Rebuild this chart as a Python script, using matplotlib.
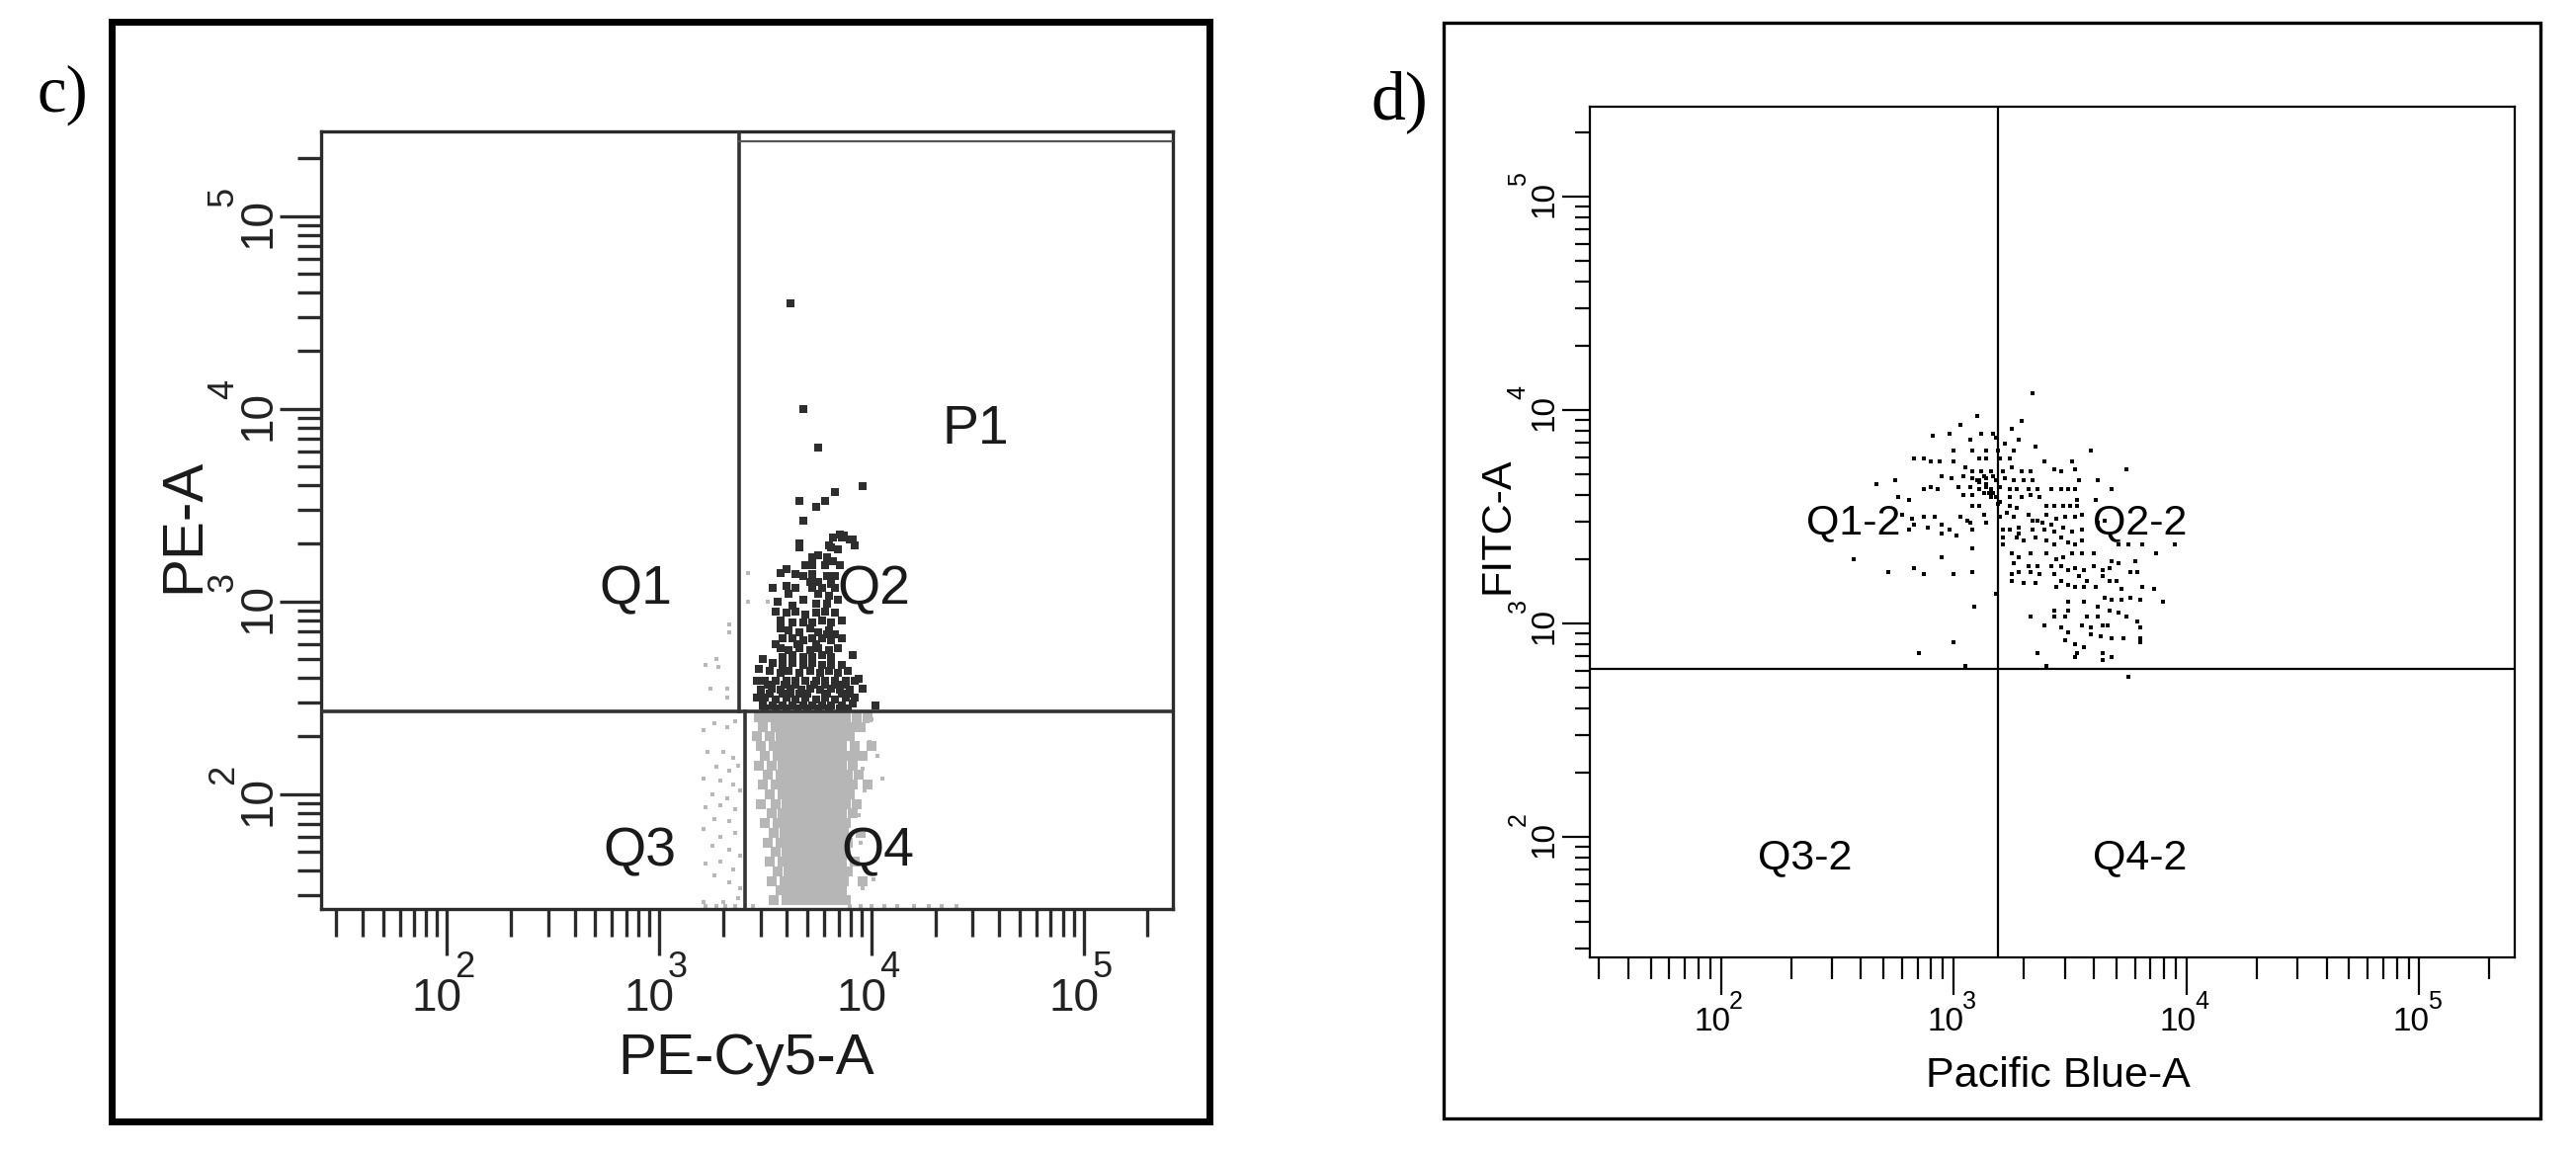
import numpy as np
import matplotlib
matplotlib.use("Agg")
import matplotlib.pyplot as plt
from matplotlib.patches import Rectangle

plt.rcParams['font.family'] = ['Liberation Sans', 'DejaVu Sans']
NARROW = ['Liberation Sans Narrow', 'Liberation Sans', 'DejaVu Sans']
SERIF = ['Liberation Serif', 'DejaVu Serif']

# ---------------- panel c : PE-Cy5-A vs PE-A (log10 of intensity) ----------------
# dark events above the horizontal gate (Q2)
c_dark_cy5 = [3.62, 3.68, 3.75, 3.96, 3.83, 3.78, 3.74, 3.66, 3.68, 3.85, 3.91, 3.87, 3.66, 3.80,
              3.82, 3.86, 3.90, 3.92, 3.66, 3.81, 3.84, 3.72, 3.75, 3.79, 3.82, 3.69, 3.72, 3.78, 3.85,
              3.57, 3.60, 3.64, 3.68, 3.72, 3.79, 3.83, 3.71, 3.75, 3.81, 3.535, 3.60, 3.64, 3.72, 3.77,
              3.83, 3.61, 3.75, 3.80, 3.56, 3.63, 3.68, 3.74, 3.79, 3.84,
              3.55, 3.60, 3.64, 3.69, 3.74, 3.78, 3.83, 3.57, 3.63, 3.68, 3.72, 3.77, 3.81, 3.86,
              3.57, 3.61, 3.66, 3.71, 3.75, 3.80, 3.58, 3.63, 3.68, 3.72, 3.77, 3.81, 3.86,
              3.57, 3.61, 3.66, 3.71, 3.75, 3.80, 3.84, 3.58, 3.63, 3.68, 3.72, 3.77, 3.81, 3.91,
              3.49, 3.535, 3.58, 3.63, 3.68, 3.72, 3.77, 3.81, 3.86,
              3.47, 3.52, 3.57, 3.61, 3.66, 3.71, 3.76, 3.80, 3.84, 3.89, 3.94,
              3.46, 3.50, 3.55, 3.60, 3.64, 3.69, 3.74, 3.78, 3.83, 3.88, 3.92,
              3.48, 3.53, 3.57, 3.62, 3.67, 3.71, 3.76, 3.81, 3.85, 3.90, 3.96,
              3.46, 3.50, 3.55, 3.60, 3.64, 3.69, 3.74, 3.78, 3.83, 3.88, 3.92,
              3.49, 3.535, 3.58, 3.63, 3.68, 3.72, 3.77, 3.81, 3.86, 3.91, 4.02,
              3.50, 3.55, 3.60, 3.65, 3.70, 3.75, 3.80, 3.85, 3.89,
              3.52, 3.58, 3.62, 3.66, 3.70, 3.79, 3.86, 3.90,
              3.51, 3.59, 3.64, 3.73, 3.78, 3.84, 3.88,
              3.55, 3.65, 3.74, 3.79, 3.83]
c_dark_pe = [4.55, 4.00, 3.80, 3.60, 3.57, 3.52, 3.49, 3.52, 3.42, 3.35, 3.32, 3.34, 3.30, 3.29,
             3.33, 3.33, 3.32, 3.29, 3.28, 3.28, 3.27, 3.23, 3.24, 3.23, 3.21, 3.19, 3.19, 3.19, 3.19,
             3.15, 3.17, 3.14, 3.13, 3.14, 3.13, 3.13, 3.10, 3.10, 3.09, 3.07, 3.08, 3.07, 3.07, 3.07,
             3.07, 3.04, 3.04, 3.03, 3.00, 2.98, 3.01, 2.99, 2.99, 3.01,
             2.95, 2.94, 2.95, 2.93, 2.94, 2.95, 2.94, 2.90, 2.89, 2.89, 2.89, 2.90, 2.89, 2.90,
             2.86, 2.85, 2.84, 2.86, 2.84, 2.85, 2.81, 2.81, 2.80, 2.81, 2.81, 2.80, 2.81,
             2.76, 2.75, 2.76, 2.75, 2.76, 2.75, 2.76, 2.71, 2.72, 2.71, 2.71, 2.72, 2.71, 2.72,
             2.70, 2.68, 2.67, 2.68, 2.67, 2.68, 2.67, 2.67, 2.67,
             2.65, 2.64, 2.63, 2.64, 2.63, 2.64, 2.63, 2.64, 2.63, 2.64, 2.60,
             2.59, 2.59, 2.59, 2.59, 2.59, 2.59, 2.59, 2.59, 2.59, 2.59, 2.59,
             2.54, 2.55, 2.54, 2.55, 2.54, 2.55, 2.54, 2.55, 2.54, 2.54, 2.55,
             2.50, 2.50, 2.49, 2.50, 2.49, 2.50, 2.49, 2.50, 2.49, 2.50, 2.50,
             2.46, 2.46, 2.46, 2.46, 2.46, 2.46, 2.46, 2.46, 2.46, 2.47, 2.46,
             2.445, 2.445, 2.445, 2.445, 2.445, 2.445, 2.445, 2.445, 2.445,
             2.52, 2.52, 2.52, 2.52, 2.52, 2.52, 2.52, 2.52,
             2.57, 2.57, 2.57, 2.57, 2.57, 2.57, 2.57,
             2.78, 2.78, 2.78, 2.83, 2.83]

# scattered light-grey events (Q1 edge, Q3, right flank of Q4, pile-up on the axis)
c_grey_cy5 = [3.33, 3.22, 3.27, 3.24, 3.32, 3.42, 3.42, 3.51, 3.33, 3.28, 3.32,
              3.21, 3.26, 3.32, 3.36, 3.23, 3.30, 3.35, 3.27, 3.33, 3.37, 3.21, 3.29, 3.35,
              3.25, 3.32, 3.38, 3.22, 3.29, 3.36, 3.26, 3.33, 3.21, 3.29, 3.36, 3.25, 3.33,
              3.38, 3.22, 3.29, 3.35, 3.26, 3.33, 3.38, 3.21, 3.30, 3.37,
              4.00, 3.98, 4.05, 3.96, 3.97, 3.94, 4.01, 3.96, 3.99, 4.03, 3.95,
              3.22, 3.27, 3.31, 3.36, 3.44, 3.90, 3.95, 4.00, 4.06, 4.12, 4.20, 4.27, 4.33, 4.40]
c_grey_pe = [2.88, 2.67, 2.70, 2.55, 2.55, 3.15, 3.00, 3.00, 2.84, 2.66, 2.50,
             2.33, 2.37, 2.35, 2.38, 2.22, 2.22, 2.19, 2.14, 2.12, 2.15, 2.08, 2.07, 2.05,
             2.00, 1.98, 2.02, 1.93, 1.94, 1.92, 1.87, 1.86, 1.82, 1.78, 1.80, 1.73, 1.71,
             1.68, 1.64, 1.65, 1.61, 1.58, 1.54, 1.51, 1.44, 1.44, 1.46,
             2.39, 2.38, 2.08, 2.13, 2.02, 1.89, 1.56, 1.51, 2.27, 2.20, 1.75,
             1.42, 1.42, 1.42, 1.42, 1.42, 1.42, 1.42, 1.42, 1.42, 1.42, 1.42, 1.42, 1.42, 1.42]

# dense light-grey core of Q4, read row by row (PE level, PE-Cy5 positions)
q4_core_pe = [2.40, 2.35, 2.30, 2.25, 2.20, 2.15, 2.10, 2.05, 2.00, 1.95,
              1.90, 1.85, 1.80, 1.75, 1.70, 1.65, 1.60, 1.55, 1.50, 1.45]
q4_core_cy5 = [
    [3.47, 3.51, 3.56, 3.60, 3.64, 3.68, 3.72, 3.76, 3.80, 3.84, 3.88, 3.93, 3.98],
    [3.49, 3.55, 3.59, 3.63, 3.67, 3.71, 3.75, 3.79, 3.83, 3.87, 3.91, 3.95],
    [3.46, 3.52, 3.57, 3.61, 3.65, 3.69, 3.73, 3.77, 3.81, 3.85, 3.90],
    [3.48, 3.54, 3.58, 3.62, 3.66, 3.70, 3.74, 3.78, 3.82, 3.86, 3.92, 4.00],
    [3.50, 3.56, 3.60, 3.64, 3.68, 3.72, 3.76, 3.80, 3.84, 3.88, 3.92, 3.96],
    [3.47, 3.53, 3.58, 3.62, 3.66, 3.70, 3.74, 3.78, 3.82, 3.86, 3.91],
    [3.51, 3.57, 3.61, 3.65, 3.69, 3.73, 3.77, 3.81, 3.85, 3.89, 3.94],
    [3.49, 3.55, 3.59, 3.63, 3.67, 3.71, 3.75, 3.79, 3.83, 3.87, 3.91, 3.98],
    [3.52, 3.58, 3.62, 3.66, 3.70, 3.74, 3.78, 3.82, 3.86, 3.90],
    [3.48, 3.55, 3.60, 3.64, 3.68, 3.72, 3.76, 3.80, 3.84, 3.88, 3.93],
    [3.53, 3.58, 3.62, 3.66, 3.70, 3.74, 3.78, 3.82, 3.86, 3.91],
    [3.50, 3.56, 3.60, 3.64, 3.68, 3.72, 3.76, 3.80, 3.84, 3.88],
    [3.54, 3.59, 3.63, 3.67, 3.71, 3.75, 3.79, 3.83, 3.87, 3.95],
    [3.51, 3.57, 3.61, 3.65, 3.69, 3.73, 3.77, 3.81, 3.85, 3.89],
    [3.55, 3.60, 3.64, 3.68, 3.72, 3.76, 3.80, 3.84, 3.88],
    [3.52, 3.58, 3.62, 3.66, 3.70, 3.74, 3.78, 3.82, 3.86, 3.92],
    [3.56, 3.61, 3.65, 3.69, 3.73, 3.77, 3.81, 3.85, 3.89],
    [3.53, 3.59, 3.63, 3.67, 3.71, 3.75, 3.79, 3.83, 3.87, 3.96],
    [3.57, 3.62, 3.66, 3.70, 3.74, 3.78, 3.82, 3.86],
    [3.54, 3.60, 3.64, 3.68, 3.72, 3.76, 3.80, 3.84, 3.88],
]

# gates of panel c (log10)
c_hgate = 2.43
c_vgate_up = 3.377
c_vgate_low = 3.403
c_p1 = (3.377, 5.415, 5.39)   # left, right, top

# ---------------- panel d : Pacific Blue-A vs FITC-A (log10) ----------------
d_pb = [3.34, 3.10, 3.29, 3.03, 3.25, 2.91, 2.98, 3.12, 3.17, 3.18,
        3.07, 3.28, 3.22, 3.35, 3.59, 3.00, 3.08, 3.14, 3.19, 3.26,
        2.83, 2.87, 2.90, 2.94, 3.00, 3.11, 3.14, 3.20, 3.24, 3.39,
        3.51, 3.74, 3.43, 3.46, 3.52, 3.05, 3.08, 3.12, 3.16, 3.21,
        3.25, 3.29, 3.33, 2.95, 2.99, 3.04, 3.08, 3.11, 3.14, 3.18,
        3.22, 3.26, 3.30, 3.34, 3.54, 3.62, 2.75, 2.67, 2.87, 2.90,
        2.93, 3.02, 3.07, 3.11, 3.14, 3.16, 3.20, 3.24, 3.27, 3.32,
        3.36, 3.42, 3.46, 3.49, 3.52, 3.68, 3.04, 3.08, 3.13, 3.16,
        3.20, 3.24, 3.29, 3.33, 3.37, 3.53, 3.61, 2.76, 2.81, 3.08,
        3.11, 3.19, 3.24, 3.27, 3.40, 3.43, 3.47, 3.50, 3.53, 2.78,
        2.82, 2.87, 2.92, 2.83, 2.89, 2.95, 2.98, 3.03, 3.06, 3.13,
        3.14, 3.20, 3.23, 3.26, 3.32, 3.36, 3.40, 3.44, 3.48, 3.52,
        3.55, 3.62, 3.65, 2.81, 2.95, 3.01, 3.07, 3.08, 3.21, 3.24,
        3.28, 3.34, 3.39, 3.43, 3.47, 3.51, 3.55, 3.21, 3.27, 3.30,
        3.35, 3.40, 3.46, 3.49, 3.55, 3.71, 3.75, 3.81, 3.95, 3.21,
        2.57, 2.95, 3.08, 3.25, 3.28, 3.33, 3.40, 3.44, 3.47, 3.51,
        3.55, 3.60, 3.68, 3.78, 3.87, 3.26, 3.32, 3.36, 3.42, 3.46,
        3.49, 3.52, 3.56, 3.60, 3.64, 3.67, 3.71, 3.76, 3.79, 2.72,
        2.83, 2.87, 3.00, 3.08, 3.25, 3.28, 3.33, 3.37, 3.43, 3.46,
        3.54, 3.57, 3.64, 3.67, 3.25, 3.30, 3.35, 3.44, 3.49, 3.52,
        3.56, 3.61, 3.70, 3.18, 3.72, 3.81, 3.86, 3.65, 3.68, 3.72,
        3.76, 3.80, 3.90, 3.49, 3.56, 3.62, 3.09, 3.43, 3.49, 3.67,
        3.71, 3.74, 3.33, 3.43, 3.48, 3.57, 3.62, 3.79, 3.39, 3.46,
        3.55, 3.59, 3.64, 3.66, 3.80, 3.49, 3.59, 3.63, 3.68, 3.73,
        3.80, 3.48, 3.80, 3.00, 3.52, 3.56, 3.53, 3.36, 2.85, 3.64,
        3.68, 3.64, 3.52, 3.05, 3.40, 3.75,
        3.11, 3.14, 3.17, 3.18, 3.15, 3.10, 3.13, 3.17, 3.34, 3.38, 3.42, 3.28, 3.43, 3.52]
d_fitc = [4.08, 3.97, 3.95, 3.93, 3.91, 3.88, 3.89, 3.89, 3.89, 3.87,
          3.86, 3.86, 3.84, 3.83, 3.81, 3.81, 3.81, 3.81, 3.81, 3.81,
          3.77, 3.77, 3.76, 3.76, 3.76, 3.77, 3.77, 3.77, 3.77, 3.76,
          3.76, 3.72, 3.72, 3.71, 3.72, 3.73, 3.71, 3.71, 3.71, 3.71,
          3.73, 3.71, 3.71, 3.69, 3.68, 3.69, 3.68, 3.67, 3.68, 3.67,
          3.68, 3.67, 3.67, 3.67, 3.67, 3.67, 3.67, 3.65, 3.63, 3.64,
          3.63, 3.64, 3.64, 3.63, 3.64, 3.63, 3.64, 3.63, 3.63, 3.63,
          3.63, 3.63, 3.63, 3.63, 3.63, 3.63, 3.60, 3.60, 3.61, 3.59,
          3.57, 3.59, 3.59, 3.60, 3.59, 3.58, 3.58, 3.59, 3.58, 3.55,
          3.55, 3.56, 3.55, 3.54, 3.55, 3.55, 3.55, 3.55, 3.55, 3.51,
          3.49, 3.50, 3.50, 3.46, 3.45, 3.46, 3.44, 3.50, 3.48, 3.51,
          3.47, 3.50, 3.52, 3.50, 3.51, 3.48, 3.51, 3.49, 3.50, 3.50,
          3.51, 3.47, 3.48, 3.44, 3.42, 3.41, 3.47, 3.44, 3.44, 3.44,
          3.45, 3.44, 3.44, 3.43, 3.45, 3.43, 3.44, 3.40, 3.40, 3.39,
          3.40, 3.39, 3.40, 3.38, 3.39, 3.37, 3.37, 3.37, 3.37, 3.37,
          3.30, 3.31, 3.35, 3.33, 3.31, 3.33, 3.33, 3.30, 3.31, 3.33,
          3.33, 3.33, 3.29, 3.29, 3.33, 3.28, 3.27, 3.27, 3.27, 3.27,
          3.25, 3.26, 3.25, 3.27, 3.25, 3.26, 3.28, 3.24, 3.24, 3.24,
          3.26, 3.23, 3.23, 3.24, 3.23, 3.24, 3.24, 3.23, 3.23, 3.20,
          3.22, 3.20, 3.22, 3.20, 3.20, 3.19, 3.19, 3.17, 3.18, 3.17,
          3.17, 3.17, 3.20, 3.14, 3.16, 3.17, 3.16, 3.12, 3.11, 3.11,
          3.12, 3.11, 3.10, 3.10, 3.10, 3.08, 3.08, 3.06, 3.06, 3.06,
          3.05, 3.03, 3.03, 3.03, 3.03, 3.03, 3.03, 3.01, 2.99, 2.98,
          2.99, 2.98, 2.99, 2.99, 2.98, 2.96, 2.95, 2.94, 2.93, 2.93,
          2.93, 2.92, 2.91, 2.91, 2.90, 2.89, 2.86, 2.86, 2.86, 2.86,
          2.84, 2.83, 2.84, 2.80, 2.80, 2.75,
          3.66, 3.65, 3.61, 3.59, 3.61, 3.67, 3.69, 3.69, 3.48, 3.47, 3.46, 3.42, 3.37, 3.37]

d_hgate = 2.787
d_vgate = 3.19

decades = [2, 3, 4, 5]

# ---------------- figure ----------------
W, H = 2607, 1170
fig = plt.figure(figsize=(W / 100, H / 100), dpi=100)


def px_rect(x0, y0, x1, y1):
    return [x0 / W, 1 - y1 / H, (x1 - x0) / W, (y1 - y0) / H]


def outer_frame(x0, y0, x1, y1, lw):
    l, b, w, h = px_rect(x0, y0, x1, y1)
    fig.add_artist(Rectangle((l, b), w, h, transform=fig.transFigure,
                             fill=False, lw=lw, ec='black'))


def log_axes(ax, xlim, ylim, col, lw, xt, yt):
    ax.set_xscale('log')
    ax.set_yscale('log')
    ax.set_xlim(10 ** xlim[0], 10 ** xlim[1])
    ax.set_ylim(10 ** ylim[0], 10 ** ylim[1])
    for s in ax.spines.values():
        s.set_color(col)
        s.set_linewidth(lw)
    ax.tick_params(axis='x', which='major', direction='out', length=xt[0], width=lw, color=col)
    ax.tick_params(axis='x', which='minor', direction='out', length=xt[1], width=lw, color=col)
    ax.tick_params(axis='y', which='major', direction='out', length=yt[0], width=lw, color=col)
    ax.tick_params(axis='y', which='minor', direction='out', length=yt[1], width=lw, color=col)
    ax.tick_params(labelbottom=False, labelleft=False)
    ax.xaxis.set_major_locator(matplotlib.ticker.LogLocator(base=10))
    ax.xaxis.set_minor_locator(matplotlib.ticker.LogLocator(base=10, subs=range(2, 10), numticks=20))
    ax.yaxis.set_major_locator(matplotlib.ticker.LogLocator(base=10))
    ax.yaxis.set_minor_locator(matplotlib.ticker.LogLocator(base=10, subs=range(2, 10), numticks=20))


def decade_labels(ax, fs, efs, xb, xe, yb, ye, col):
    # "10" plus raised exponent, as drawn by the cytometer software
    for k in decades:
        ax.annotate('10', xy=(10 ** k, 0), xycoords=('data', 'axes fraction'),
                    xytext=xb, textcoords='offset points', ha='center', va='top',
                    fontsize=fs, family=NARROW, color=col)
        ax.annotate(str(k), xy=(10 ** k, 0), xycoords=('data', 'axes fraction'),
                    xytext=xe, textcoords='offset points', ha='left', va='top',
                    fontsize=efs, family=NARROW, color=col)
        ax.annotate('10', xy=(0, 10 ** k), xycoords=('axes fraction', 'data'),
                    xytext=yb, textcoords='offset points', ha='center', va='center',
                    rotation=90, fontsize=fs, family=NARROW, color=col)
        ax.annotate(str(k), xy=(0, 10 ** k), xycoords=('axes fraction', 'data'),
                    xytext=ye, textcoords='offset points', ha='center', va='center',
                    rotation=90, fontsize=efs, family=NARROW, color=col)


def p10(v):
    return 10 ** np.asarray(v, dtype=float)


# ---- panel c ----
outer_frame(113, 22, 1224, 1135, 5)
axc = fig.add_axes(px_rect(325, 133, 1187, 920))
log_axes(axc, (1.408, 5.42), (1.404, 5.44), '#2b2b2b', 2.4, (34, 20), (30, 17))

core_x = [x for row in q4_core_cy5 for x in row]
core_y = [y for y, row in zip(q4_core_pe, q4_core_cy5) for _ in row]
axc.scatter(p10(core_x), p10(core_y), s=44, marker='s', c='#b6b6b6', linewidths=0, zorder=2)
axc.scatter(p10(c_grey_cy5), p10(c_grey_pe), s=10, marker='s', c='#b8b8b8', linewidths=0, zorder=2)
axc.scatter(p10(c_dark_cy5), p10(c_dark_pe), s=30, marker='s', c='#2e2e2e', linewidths=0, zorder=3)

lc = '#333333'
axc.axhline(10 ** c_hgate, color=lc, lw=2.6, zorder=4)
axc.plot([10 ** c_vgate_up] * 2, [10 ** c_hgate, 10 ** 5.44], color=lc, lw=2.6, zorder=4)
axc.plot([10 ** c_vgate_low] * 2, [10 ** 1.404, 10 ** c_hgate], color=lc, lw=2.6, zorder=4)
p1_left, p1_right, p1_top = c_p1
axc.plot(p10([p1_left, p1_right]), p10([p1_top, p1_top]), color='#555555', lw=1.6, zorder=4)

decade_labels(axc, 33, 26, (-7, -50), (6, -30), (-46, -5), (-71, 14), '#222222')

qfs = 40
for txt, lx, ly in [('Q1', 2.89, 3.06), ('Q2', 4.01, 3.06), ('Q3', 2.91, 1.70),
                    ('Q4', 4.03, 1.70), ('P1', 4.49, 3.89)]:
    axc.text(10 ** lx, 10 ** ly, txt, fontsize=qfs, ha='center', va='center', color='#1a1a1a', zorder=5)

fig.text(755 / W, 1 - 1072 / H, 'PE-Cy5-A', fontsize=42, ha='center', va='center', color='#1a1a1a')
fig.text(186 / W, 1 - 532 / H, 'PE-A', fontsize=42, ha='center', va='center', rotation=90, color='#1a1a1a')
fig.text(37 / W, 1 - 113 / H, 'c)', fontsize=48, family=SERIF, ha='left', va='baseline')

# ---- panel d ----
outer_frame(1461, 23, 2571, 1132, 2.4)
axd = fig.add_axes(px_rect(1609, 108, 2545, 969))
log_axes(axd, (1.437, 5.41), (1.435, 5.42), 'black', 1.6, (27, 16), (20, 11))

axd.scatter(p10(d_pb), p10(d_fitc), s=6, marker='s', c='black', linewidths=0, zorder=3)
axd.axhline(10 ** d_hgate, color='black', lw=1.6, zorder=4)
axd.axvline(10 ** d_vgate, color='black', lw=1.6, zorder=4)

decade_labels(axd, 24, 18, (-6, -36), (6, -24), (-33, -2), (-52, 13), 'black')

for txt, lx, ly in [('Q1-2', 2.57, 3.47), ('Q2-2', 3.80, 3.47),
                    ('Q3-2', 2.36, 1.90), ('Q4-2', 3.80, 1.90)]:
    axd.text(10 ** lx, 10 ** ly, txt, fontsize=31, ha='center', va='center', zorder=5)

fig.text(2083 / W, 1 - 1089 / H, 'Pacific Blue-A', fontsize=31, ha='center', va='center')
fig.text(1516 / W, 1 - 532 / H, 'FITC-A', fontsize=31, ha='center', va='center', rotation=90)
fig.text(1388 / W, 1 - 120 / H, 'd)', fontsize=50, family=SERIF, ha='left', va='baseline')

assert len(d_pb) == len(d_fitc)
assert len(c_dark_cy5) == len(c_dark_pe)
assert len(c_grey_cy5) == len(c_grey_pe)

fig.savefig('out.png', dpi=100, facecolor='white')
